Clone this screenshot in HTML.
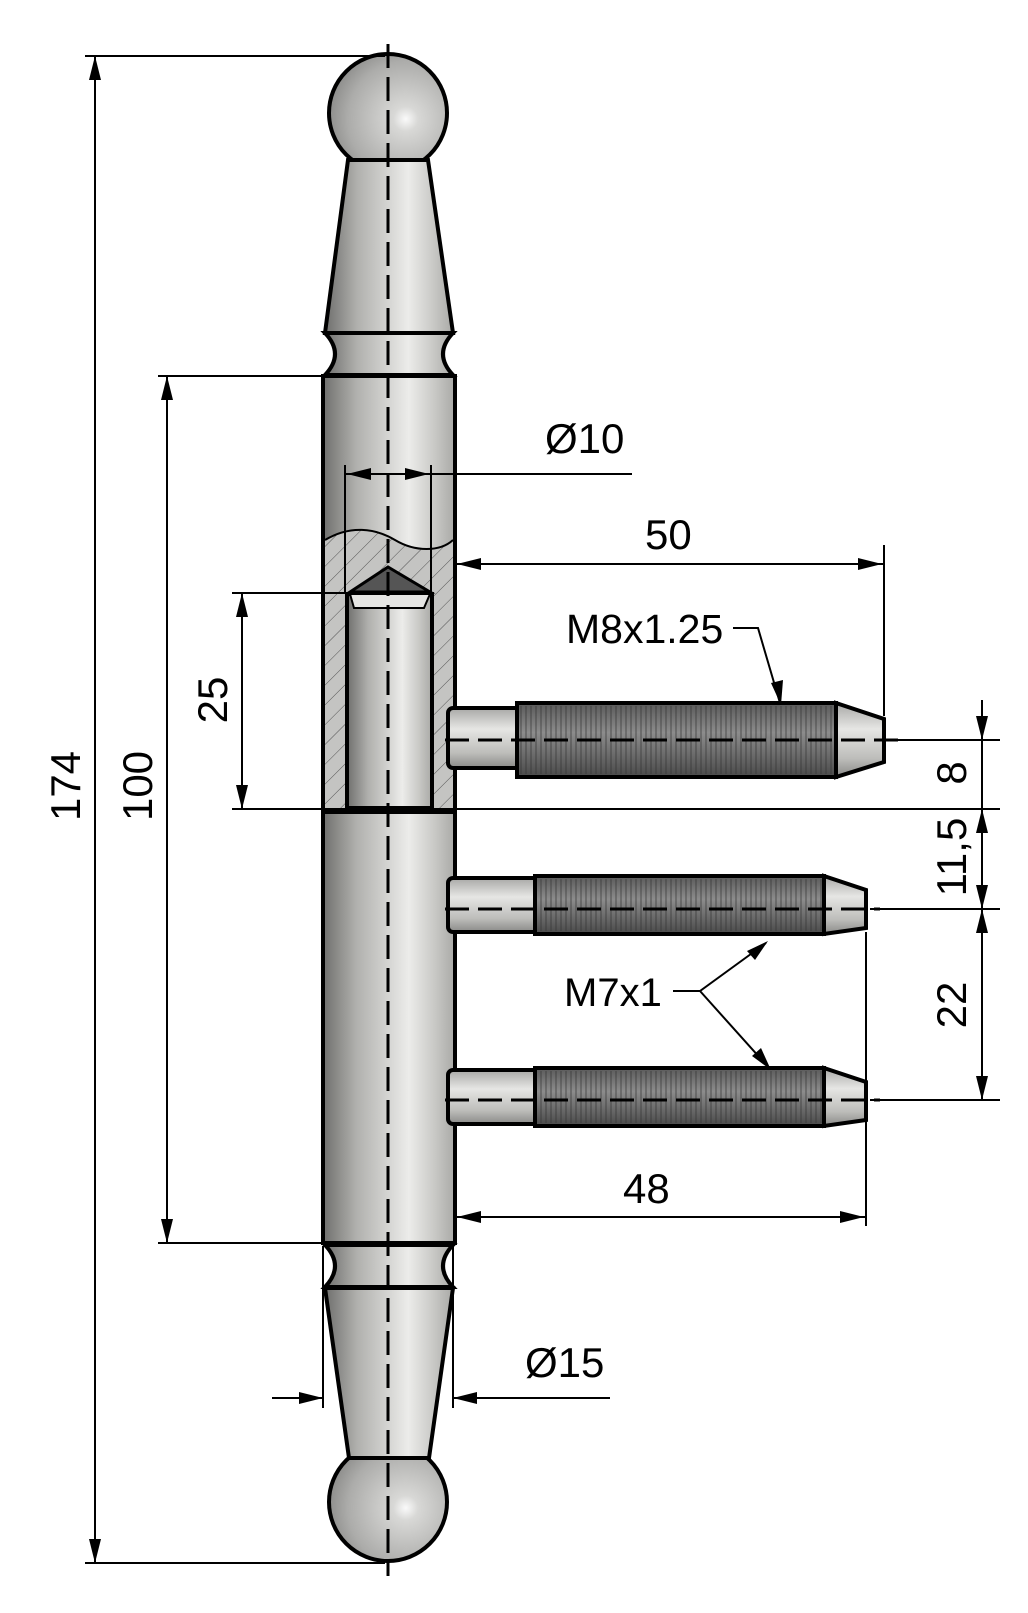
<!DOCTYPE html>
<html><head><meta charset="utf-8"><style>html,body{margin:0;padding:0;background:#fff}svg{display:block}text{font-family:"Liberation Sans",Arial,sans-serif;font-size:42px;fill:#000}</style></head><body>
<svg width="1028" height="1613" viewBox="0 0 1028 1613" xmlns="http://www.w3.org/2000/svg">
<defs>
<linearGradient id="cyl" x1="0" x2="1" y1="0" y2="0"><stop offset="0" stop-color="#6f6f6d"/><stop offset="0.25" stop-color="#b0b0ad"/><stop offset="0.65" stop-color="#ececea"/><stop offset="0.85" stop-color="#c8c8c5"/><stop offset="1" stop-color="#a9a9a6"/></linearGradient>
<linearGradient id="pin" x1="0" x2="0" y1="0" y2="1"><stop offset="0" stop-color="#a8a8a6"/><stop offset="0.35" stop-color="#e6e6e4"/><stop offset="0.75" stop-color="#bdbdba"/><stop offset="1" stop-color="#8a8a88"/></linearGradient>
<linearGradient id="thr" x1="0" x2="0" y1="0" y2="1"><stop offset="0" stop-color="#5a5a5a"/><stop offset="0.4" stop-color="#8c8c8c"/><stop offset="1" stop-color="#4a4a4a"/></linearGradient>
<pattern id="stripes" width="5" height="10" patternUnits="userSpaceOnUse"><rect width="2" height="10" fill="#333" opacity="0.35"/></pattern>
<radialGradient id="ball" cx="0.65" cy="0.55" r="0.7"><stop offset="0" stop-color="#fafafa"/><stop offset="0.15" stop-color="#d8d8d6"/><stop offset="0.7" stop-color="#acacaa"/><stop offset="1" stop-color="#858583"/></radialGradient>
<pattern id="hatch" width="14" height="14" patternUnits="userSpaceOnUse" patternTransform="rotate(45)"><rect width="14" height="14" fill="#c4c4c2"/><line x1="0" y1="0" x2="0" y2="14" stroke="#555" stroke-width="1"/></pattern>
</defs>

<circle cx="388" cy="113" r="59" fill="url(#ball)" stroke="#000" stroke-width="4"/>
<polygon points="348,160 428,160 453,333 325,333" fill="url(#cyl)" stroke="#000" stroke-width="4"/>
<path d="M325,333 L453,333 Q433,354 453,375 L325,375 Q345,354 325,333 Z" fill="url(#cyl)" stroke="#000" stroke-width="4"/>

<rect x="323" y="376" width="132" height="434" fill="url(#cyl)" stroke="#000" stroke-width="4"/>
<path d="M325,540 C350,525 375,528 395,540 C415,552 440,552 453,540 L453,808 L325,808 Z" fill="url(#hatch)"/>
<path d="M325,540 C350,525 375,528 395,540 C415,552 440,552 453,540" fill="none" stroke="#000" stroke-width="2"/>
<rect x="347" y="594" width="85" height="214" fill="url(#cyl)" stroke="#000" stroke-width="4"/>
<polygon points="350,592 388,567 430,592" fill="#555" stroke="#000" stroke-width="3"/>
<polygon points="350,594 430,594 424,608 354,608" fill="#e6e6e4" stroke="#000" stroke-width="2"/>
<rect x="323" y="376" width="132" height="434" fill="none" stroke="#000" stroke-width="4"/>

<rect x="323" y="812" width="132" height="431" fill="url(#cyl)" stroke="#000" stroke-width="4"/>

<path d="M325,1245 L453,1245 Q433,1266 453,1287 L325,1287 Q345,1266 325,1245 Z" fill="url(#cyl)" stroke="#000" stroke-width="4"/>
<circle cx="388" cy="1502" r="59" fill="url(#ball)" stroke="#000" stroke-width="4"/>
<polygon points="325,1288 453,1288 429,1458 349,1458" fill="url(#cyl)" stroke="#000" stroke-width="4"/>

<rect x="448" y="708" width="72" height="60" rx="5" fill="url(#pin)" stroke="#000" stroke-width="4"/>
<rect x="517" y="703" width="319" height="74" fill="url(#thr)" stroke="#000" stroke-width="4"/>
<rect x="519" y="706" width="315" height="68" fill="url(#stripes)"/>
<polygon points="836,703 884,719 884,762 836,777" fill="url(#pin)" stroke="#000" stroke-width="4"/>
<rect x="448" y="878" width="90" height="54" rx="5" fill="url(#pin)" stroke="#000" stroke-width="4"/>
<rect x="535" y="876" width="289" height="58" fill="url(#thr)" stroke="#000" stroke-width="4"/>
<rect x="537" y="879" width="285" height="52" fill="url(#stripes)"/>
<polygon points="824,876 866,890 866,928 824,934" fill="url(#pin)" stroke="#000" stroke-width="4"/>
<rect x="448" y="1070" width="90" height="54" rx="5" fill="url(#pin)" stroke="#000" stroke-width="4"/>
<rect x="535" y="1068" width="289" height="58" fill="url(#thr)" stroke="#000" stroke-width="4"/>
<rect x="537" y="1071" width="285" height="52" fill="url(#stripes)"/>
<polygon points="824,1068 866,1082 866,1120 824,1126" fill="url(#pin)" stroke="#000" stroke-width="4"/>

<g stroke="#000" stroke-width="3" stroke-dasharray="24,9" fill="none">
<line x1="388" y1="44" x2="388" y2="1576"/>
<line x1="445" y1="740" x2="900" y2="740"/>
<line x1="445" y1="909" x2="880" y2="909"/>
<line x1="445" y1="1100" x2="880" y2="1100"/>
</g>

<g stroke="#000" stroke-width="2" fill="none">
<line x1="85" y1="56" x2="385" y2="56"/>
<line x1="85" y1="1563" x2="385" y2="1563"/>
<line x1="95" y1="56" x2="95" y2="1563"/>
<line x1="158" y1="376" x2="323" y2="376"/>
<line x1="158" y1="1243" x2="323" y2="1243"/>
<line x1="167" y1="376" x2="167" y2="1243"/>
<line x1="232" y1="593" x2="350" y2="593"/>
<line x1="232" y1="809" x2="1000" y2="809"/>
<line x1="242" y1="593" x2="242" y2="809"/>
<line x1="345" y1="465" x2="345" y2="594"/>
<line x1="431" y1="465" x2="431" y2="594"/>
<line x1="345" y1="474" x2="632" y2="474"/>
<line x1="455" y1="564" x2="884" y2="564"/>
<line x1="884" y1="545" x2="884" y2="716"/>
<line x1="890" y1="740" x2="1000" y2="740"/>
<line x1="870" y1="909" x2="1000" y2="909"/>
<line x1="870" y1="1100" x2="1000" y2="1100"/>
<line x1="982" y1="700" x2="982" y2="1100"/>
<line x1="866" y1="932" x2="866" y2="1226"/>
<line x1="455" y1="1217" x2="866" y2="1217"/>
<line x1="323" y1="1246" x2="323" y2="1408"/>
<line x1="453" y1="1246" x2="453" y2="1408"/>
<line x1="272" y1="1398" x2="323" y2="1398"/>
<line x1="453" y1="1398" x2="610" y2="1398"/>
<polyline points="733,628 758,628 780,703"/>
<polyline points="673,991 700,991 766,943"/>
<line x1="700" y1="991" x2="769" y2="1068"/>
</g>
<g fill="#000">
<polygon points="95,56 89,80 101,80"/><polygon points="95,1563 89,1539 101,1539"/>
<polygon points="167,376 161,400 173,400"/><polygon points="167,1243 161,1219 173,1219"/>
<polygon points="242,593 236,617 248,617"/><polygon points="242,809 236,785 248,785"/>
<polygon points="347,474 371,468 371,480"/><polygon points="429,474 405,468 405,480"/>
<polygon points="457,564 481,558 481,570"/><polygon points="882,564 858,558 858,570"/>
<polygon points="457,1217 481,1211 481,1223"/><polygon points="864,1217 840,1211 840,1223"/>
<polygon points="323,1398 299,1392 299,1404"/><polygon points="453,1398 477,1392 477,1404"/>
<polygon points="982,740 976,716 988,716"/><polygon points="982,809 976,833 988,833"/>
<polygon points="982,909 976,885 988,885"/><polygon points="982,909 976,933 988,933"/>
<polygon points="982,1100 976,1076 988,1076"/>
<polygon points="781,705 771,683 783,680"/>
<polygon points="768,941 747,951 755,960"/>
<polygon points="771,1070 752,1056 761,1048"/>
</g>

<text x="545" y="453">Ø10</text>
<text x="645" y="549">50</text>
<text x="566" y="643" style="font-size:41px">M8x1.25</text>
<text x="564" y="1006" style="font-size:40px">M7x1</text>
<text x="623" y="1203">48</text>
<text x="525" y="1377">Ø15</text>
<text transform="translate(227,700) rotate(-90)" text-anchor="middle">25</text>
<text transform="translate(152,786) rotate(-90)" text-anchor="middle">100</text>
<text transform="translate(80,786) rotate(-90)" text-anchor="middle">174</text>
<text transform="translate(966,773) rotate(-90)" text-anchor="middle">8</text>
<text transform="translate(966,857) rotate(-90)" text-anchor="middle">11,5</text>
<text transform="translate(966,1005) rotate(-90)" text-anchor="middle">22</text>
</svg>
</body></html>
